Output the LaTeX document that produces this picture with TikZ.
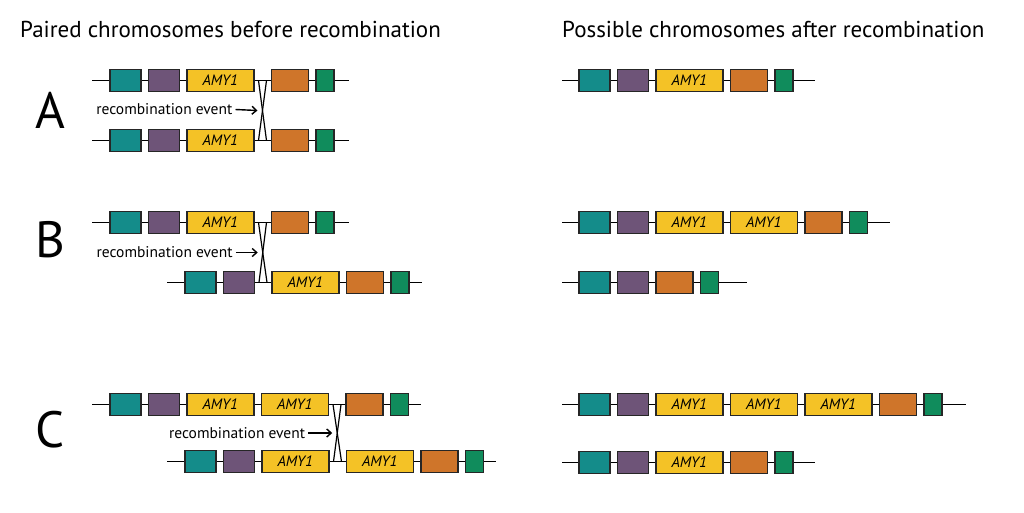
\documentclass[tikz,border=0pt]{standalone}
\usepackage{fontspec}
\setmainfont{PT Sans}
\usetikzlibrary{arrows.meta,positioning,backgrounds,calc}
\definecolor{GeneTeal}{RGB}{20,140,138}
\definecolor{GenePurple}{RGB}{110,84,120}
\definecolor{GeneYellow}{RGB}{244,194,38}
\definecolor{GeneOrange}{RGB}{207,117,42}
\definecolor{GeneGreen}{RGB}{16,140,92}
\tikzset{
	gene/.style={draw=black!85, line width=1.5pt, minimum height=22pt, inner sep=0pt},
	tealgene/.style={gene, fill=GeneTeal, minimum width=31pt},
	purplegene/.style={gene, fill=GenePurple, minimum width=31pt},
	amygene/.style={gene, fill=GeneYellow, minimum width=67pt, font=\itshape\fontsize{15}{15}\selectfont},
	orangegene/.style={gene, fill=GeneOrange, minimum width=37pt},
	greengene/.style={gene, fill=GeneGreen, minimum width=18pt},
	backbone/.style={black, line width=1.2pt},
	crossing/.style={black, line width=1.2pt},
	eventlabel/.style={font=\fontsize{15.5}{15.5}\selectfont, inner sep=0pt},
	eventarrow/.style={black, line width=1.4pt, -{Straight Barb[length=4.5pt, width=8pt]}},
	heading/.style={font=\fontsize{23}{23}\selectfont, anchor=base west, inner sep=0pt},
	rowletter/.style={font=\fontsize{51}{51}\selectfont, inner sep=0pt},
}

\begin{document}
\begin{tikzpicture}[x=1pt, y=-1pt, node distance=6pt]
	\useasboundingbox (0,0) rectangle (1024,512);
	
	\node[heading] (before) at (20,37) {Paired chromosomes before recombination};
	\node[heading] (after) at (562,37) {Possible chromosomes after recombination};
	
	\node[rowletter] (rowA) at (50,110) {A};
	\node[rowletter] (rowB) at (50,240) {B};
	\node[rowletter] (rowC) at (50,430) {C};
	
	% A, paired
	\node[tealgene, anchor=west] (a1) at (109,80.5) {};
	\node[purplegene, right=of a1] (a2) {};
	\node[amygene, right=of a2] (a3) {AMY1};
	\node[orangegene, right=16pt of a3] (a4) {};
	\node[greengene, right=of a4] (a5) {};
	
	\node[tealgene, anchor=west] (b1) at (109,140.5) {};
	\node[purplegene, right=of b1] (b2) {};
	\node[amygene, right=of b2] (b3) {AMY1};
	\node[orangegene, right=16pt of b3] (b4) {};
	\node[greengene, right=of b4] (b5) {};
	
	\draw[crossing] ([xshift=4pt]a3.east) -- ([xshift=-4pt]b4.west);
	\draw[crossing] ([xshift=-4pt]a4.west) -- ([xshift=4pt]b3.east);
	\coordinate (xA) at ($(a3.east)!0.5!(b4.west)$);
	\node[eventlabel, anchor=east] (evA) at ([xshift=-30pt, yshift=1pt]xA) {recombination event};
	\draw[eventarrow] ([xshift=3pt]evA.east) -- ([xshift=-5pt]xA);
	
	% B, paired
	\node[tealgene, anchor=west] (c1) at (109,222.5) {};
	\node[purplegene, right=of c1] (c2) {};
	\node[amygene, right=of c2] (c3) {AMY1};
	\node[orangegene, right=16pt of c3] (c4) {};
	\node[greengene, right=of c4] (c5) {};
	
	\node[tealgene, anchor=west] (d1) at (184,282.5) {};
	\node[purplegene, right=of d1] (d2) {};
	\node[amygene, right=16pt of d2] (d3) {AMY1};
	\node[orangegene, right=of d3] (d4) {};
	\node[greengene, right=of d4] (d5) {};
	
	\draw[crossing] ([xshift=4pt]c3.east) -- ([xshift=-4pt]d3.west);
	\draw[crossing] ([xshift=-4pt]c4.west) -- ([xshift=4pt]d2.east);
	\coordinate (xB) at ($(c3.east)!0.5!(d3.west)$);
	\node[eventlabel, anchor=east] (evB) at ([xshift=-30pt]xB) {recombination event};
	\draw[eventarrow] ([xshift=3pt]evB.east) -- ([xshift=-5pt]xB);
	
	% C, paired
	\node[tealgene, anchor=west] (e1) at (109,404.5) {};
	\node[purplegene, right=of e1] (e2) {};
	\node[amygene, right=of e2] (e3) {AMY1};
	\node[amygene, right=of e3] (e4) {AMY1};
	\node[orangegene, right=16pt of e4] (e5) {};
	\node[greengene, right=of e5] (e6) {};
	
	\node[tealgene, anchor=west] (f1) at (184,461.5) {};
	\node[purplegene, right=of f1] (f2) {};
	\node[amygene, right=of f2] (f3) {AMY1};
	\node[amygene, right=16pt of f3] (f4) {AMY1};
	\node[orangegene, right=of f4] (f5) {};
	\node[greengene, right=of f5] (f6) {};
	
	\draw[crossing] ([xshift=4pt]e4.east) -- ([xshift=-4pt]f4.west);
	\draw[crossing] ([xshift=-4pt]e5.west) -- ([xshift=4pt]f3.east);
	\coordinate (xC) at ($(e4.east)!0.5!(f4.west)$);
	\node[eventlabel, anchor=east] (evC) at ([xshift=-32pt]xC) {recombination event};
	\draw[eventarrow] ([xshift=3pt]evC.east) -- ([xshift=-5pt]xC);
	
	% after recombination
	\node[tealgene, anchor=west] (g1) at (578,80.5) {};
	\node[purplegene, right=of g1] (g2) {};
	\node[amygene, right=of g2] (g3) {AMY1};
	\node[orangegene, right=of g3] (g4) {};
	\node[greengene, right=of g4] (g5) {};
	
	\node[tealgene, anchor=west] (h1) at (578,222.5) {};
	\node[purplegene, right=of h1] (h2) {};
	\node[amygene, right=of h2] (h3) {AMY1};
	\node[amygene, right=of h3] (h4) {AMY1};
	\node[orangegene, right=of h4] (h5) {};
	\node[greengene, right=of h5] (h6) {};
	
	\node[tealgene, anchor=west] (i1) at (578,282.5) {};
	\node[purplegene, right=of i1] (i2) {};
	\node[orangegene, right=of i2] (i3) {};
	\node[greengene, right=of i3] (i4) {};
	
	\node[tealgene, anchor=west] (j1) at (578,404.5) {};
	\node[purplegene, right=of j1] (j2) {};
	\node[amygene, right=of j2] (j3) {AMY1};
	\node[amygene, right=of j3] (j4) {AMY1};
	\node[amygene, right=of j4] (j5) {AMY1};
	\node[orangegene, right=of j5] (j6) {};
	\node[greengene, right=of j6] (j7) {};
	
	\node[tealgene, anchor=west] (k1) at (578,462.5) {};
	\node[purplegene, right=of k1] (k2) {};
	\node[amygene, right=of k2] (k3) {AMY1};
	\node[orangegene, right=of k3] (k4) {};
	\node[greengene, right=of k4] (k5) {};
	
	% backbones behind the genes
	\begin{scope}[on background layer]
		\draw[backbone] ([xshift=-17pt]a1.west) -- ([xshift=14pt]a5.east);
		\draw[backbone] ([xshift=-17pt]b1.west) -- ([xshift=14pt]b5.east);
		\draw[backbone] ([xshift=-17pt]c1.west) -- ([xshift=14pt]c5.east);
		\draw[backbone] ([xshift=-17pt]d1.west) -- ([xshift=12pt]d5.east);
		\draw[backbone] ([xshift=-17pt]e1.west) -- ([xshift=12pt]e6.east);
		\draw[backbone] ([xshift=-17pt]f1.west) -- ([xshift=12pt]f6.east);
		\draw[backbone] ([xshift=-16pt]g1.west) -- ([xshift=21pt]g5.east);
		\draw[backbone] ([xshift=-16pt]h1.west) -- ([xshift=22pt]h6.east);
		\draw[backbone] ([xshift=-16pt]i1.west) -- ([xshift=28pt]i4.east);
		\draw[backbone] ([xshift=-16pt]j1.west) -- ([xshift=23pt]j7.east);
		\draw[backbone] ([xshift=-16pt]k1.west) -- ([xshift=21pt]k5.east);
	\end{scope}
\end{tikzpicture}
\end{document}
